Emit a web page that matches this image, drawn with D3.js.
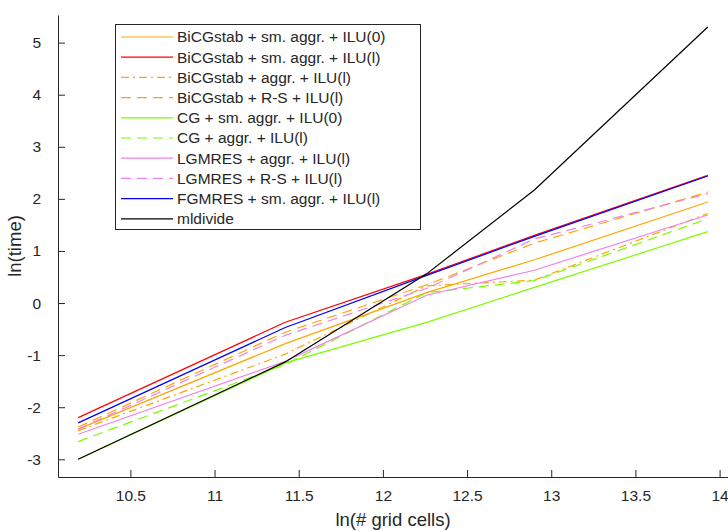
<!DOCTYPE html>
<html>
<head>
<meta charset="utf-8">
<script src="https://cdn.jsdelivr.net/npm/d3@7"></script>
<style>
  html, body { margin: 0; padding: 0; background: #fff; }
  svg { display: block; font-family: "Liberation Sans", Arial, Helvetica, sans-serif; }
</style>
</head>
<body>
<svg id="chart" width="728" height="532"></svg>
<script>
// ln(# grid cells) at which each solver was timed
const gridCells = [10.19, 11.42, 12.26, 12.90, 13.93];

// ln(time) per solver configuration
const bicgSmAggrIlu0 = [-2.42, -0.78, 0.20, 0.83, 1.94];
const bicgSmAggrIluL = [-2.20, -0.37, 0.55, 1.30, 2.45];
const bicgAggrIluL   = [-2.45, -0.98, 0.33, 0.44, 1.72];
const bicgRsIluL     = [-2.38, -0.56, 0.35, 1.15, 2.13];
const cgSmAggrIlu0   = [-3.00, -1.15, -0.37, 0.30, 1.37];
const cgAggrIluL     = [-2.66, -1.18, 0.20, 0.43, 1.62];
const lgmresAggrIluL = [-2.52, -1.12, 0.15, 0.63, 1.69];
const lgmresRsIluL   = [-2.42, -0.62, 0.28, 1.23, 2.10];
const fgmresSmAggrIluL = [-2.30, -0.47, 0.53, 1.28, 2.44];
const mldivide       = [-3.00, -1.13, 0.56, 2.17, 5.30];

const seriesNames = [
  "BiCGstab + sm. aggr. + ILU(0)",
  "BiCGstab + sm. aggr. + ILU(l)",
  "BiCGstab + aggr. + ILU(l)",
  "BiCGstab + R-S + ILU(l)",
  "CG + sm. aggr. + ILU(0)",
  "CG + aggr. + ILU(l)",
  "LGMRES + aggr. + ILU(l)",
  "LGMRES + R-S + ILU(l)",
  "FGMRES + sm. aggr. + ILU(l)",
  "mldivide"
];
const seriesValues = [
  bicgSmAggrIlu0, bicgSmAggrIluL, bicgAggrIluL, bicgRsIluL,
  cgSmAggrIlu0, cgAggrIluL, lgmresAggrIluL, lgmresRsIluL,
  fgmresSmAggrIluL, mldivide
];

const xTicks = [10.5, 11, 11.5, 12, 12.5, 13, 13.5, 14];
const yTicks = [-3, -2, -1, 0, 1, 2, 3, 4, 5];

// line styles
const colors = ["#ffa500", "#ff0000", "#ffa500", "#ffa500", "#7cfc00",
                "#7cfc00", "#ee82ee", "#ee82ee", "#0000ff", "#000000"];
const dashes = [null, null, "8,4,2,4", "10,6", null, "10,6", null, "10,6", null, null];

const svg = d3.select("#chart");
const axisColor = "#262626";

const x = d3.scaleLinear().domain([10.07, 14.05]).range([58, 728]);
const y = d3.scaleLinear().domain([-3.34, 5.53]).range([477, 15]);

// axes
const xAxis = svg.append("g")
  .attr("transform", `translate(0,${y.range()[0]})`)
  .call(d3.axisBottom(x).tickValues(xTicks).tickFormat(d3.format("")).tickSizeInner(-7).tickSizeOuter(0).tickPadding(13));
const yAxis = svg.append("g")
  .attr("transform", `translate(${x.range()[0]},0)`)
  .call(d3.axisLeft(y).tickValues(yTicks).tickFormat(d3.format("")).tickSizeInner(-7).tickSizeOuter(0).tickPadding(17));

[xAxis, yAxis].forEach(g => {
  g.select(".domain").attr("stroke", axisColor).attr("stroke-width", 1);
  g.selectAll(".tick line").attr("stroke", axisColor).attr("stroke-width", 1);
  g.selectAll(".tick text").attr("fill", axisColor)
    .style("font-size", "15.5px").style("font-family", "'Liberation Sans', Arial, sans-serif");
});
yAxis.selectAll(".tick text").text(d => d < 0 ? "-" + Math.abs(d) : d);

// axis titles
svg.append("text")
  .attr("x", 393).attr("y", 526)
  .attr("text-anchor", "middle")
  .attr("fill", axisColor)
  .style("font-size", "18.5px")
  .text("ln(# grid cells)");
svg.append("text")
  .attr("transform", "translate(21,246) rotate(-90)")
  .attr("text-anchor", "middle")
  .attr("fill", axisColor)
  .style("font-size", "18.5px")
  .text("ln(time)");

// series lines
const line = d3.line().x((d, i) => x(gridCells[i])).y(d => y(d));
const plot = svg.append("g");
seriesValues.forEach((vals, k) => {
  plot.append("path")
    .datum(vals)
    .attr("d", line)
    .attr("fill", "none")
    .attr("stroke", colors[k])
    .attr("stroke-width", 1.2)
    .attr("stroke-dasharray", dashes[k]);
});

// legend
const legend = svg.append("g");
legend.append("rect")
  .attr("x", 115.5).attr("y", 24.5)
  .attr("width", 305).attr("height", 205)
  .attr("fill", "#fff").attr("stroke", axisColor).attr("stroke-width", 1);
seriesNames.forEach((name, k) => {
  const ry = 37 + k * 20.2;
  legend.append("line")
    .attr("x1", 121).attr("x2", 173)
    .attr("y1", ry).attr("y2", ry)
    .attr("stroke", colors[k])
    .attr("stroke-width", 1.2)
    .attr("stroke-dasharray", dashes[k]);
  legend.append("text")
    .attr("x", 177).attr("y", ry)
    .attr("dy", "0.35em")
    .attr("fill", axisColor)
    .style("font-size", "15.5px")
    .text(name);
});
</script>
</body>
</html>
